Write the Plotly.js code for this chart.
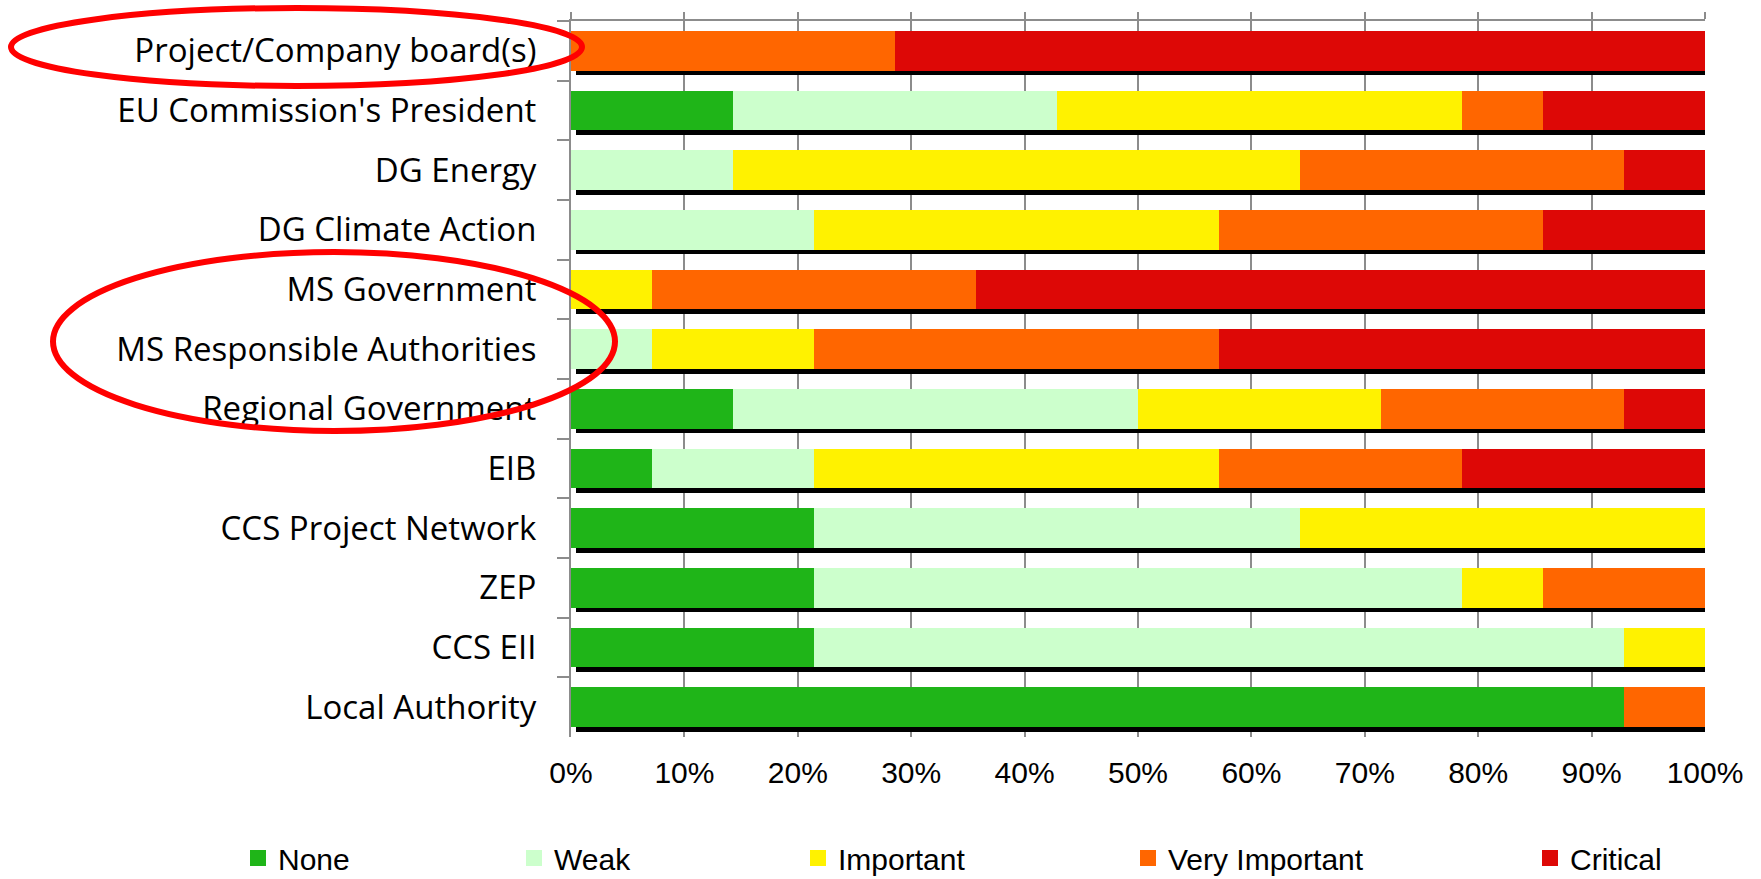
<!DOCTYPE html>
<html>
<head>
<meta charset="utf-8">
<script src="https://cdn.plot.ly/plotly-3.0.1.min.js"></script>
<style>
  html, body { margin: 0; padding: 0; background: #ffffff; }
  #chart { width: 1761px; height: 879px; }
</style>
</head>
<body>
<div id="chart"></div>
<script>
// Stakeholder categories (top to bottom)
const categories = [
  "Project/Company board(s)",
  "EU Commission's President",
  "DG Energy",
  "DG Climate Action",
  "MS Government",
  "MS Responsible Authorities",
  "Regional Government",
  "EIB",
  "CCS Project Network",
  "ZEP",
  "CCS EII",
  "Local Authority"
];

// Number of answers (out of 14 respondents) per rating
const noneCounts          = [0, 2, 0, 0, 0, 0, 2, 1, 3, 3, 3, 13];
const weakCounts          = [0, 4, 2, 3, 0, 1, 5, 2, 6, 8, 10, 0];
const importantCounts     = [0, 5, 7, 5, 1, 2, 3, 5, 5, 1, 1, 0];
const veryImportantCounts = [4, 1, 4, 4, 4, 5, 3, 3, 0, 2, 0, 1];
const criticalCounts      = [10, 2, 1, 2, 9, 6, 1, 3, 0, 0, 0, 0];

const seriesNames = ["None", "Weak", "Important", "Very Important", "Critical"];
const seriesColors = ["#1FB518", "#CCFFCC", "#FFF200", "#FF6600", "#DD0806"];
const seriesValues = [noneCounts, weakCounts, importantCounts, veryImportantCounts, criticalCounts];

const xTickVals = [0, 10, 20, 30, 40, 50, 60, 70, 80, 90, 100];

// ---- layout geometry (pixels) ----
const W = 1761, H = 879;
const ML = 571, MR = 56, MT = 21, MB = 142;
const PW = W - ML - MR, PH = H - MT - MB;
const fx = px => (px - ML) / PW;
const fy = py => (H - MB - py) / PH;

const shadowDx = 4.5, shadowDy = 4.5;
const nCat = categories.length;
const catPx = PH / nCat;
const dCat = shadowDy / catPx;
const dX = shadowDx / PW * 100;

const totals = categories.map((c, i) => seriesValues.reduce((s, arr) => s + arr[i], 0));

const traces = [];
// shadow bars (drawn underneath, slightly offset)
traces.push({
  type: 'bar', orientation: 'h',
  y: categories, x: totals,
  xaxis: 'x', yaxis: 'y',
  width: 0.67,
  marker: { color: '#000000' },
  showlegend: false, hoverinfo: 'skip'
});

const legendIds = ['legend', 'legend2', 'legend3', 'legend4', 'legend5'];
seriesNames.forEach((name, k) => {
  traces.push({
    type: 'bar', orientation: 'h',
    name: name,
    y: categories, x: seriesValues[k],
    xaxis: 'x2', yaxis: 'y2',
    width: 0.67,
    marker: { color: seriesColors[k] },
    showlegend: false,
    hoverinfo: 'skip'
  });
});
// legend keys (square swatches, no data drawn)
seriesNames.forEach((name, k) => {
  traces.push({
    type: 'scatter', mode: 'markers',
    name: name,
    x: [null], y: [null],
    xaxis: 'x2', yaxis: 'y2',
    marker: { color: seriesColors[k], symbol: 'square', size: 16 },
    legend: legendIds[k],
    showlegend: true,
    hoverinfo: 'skip'
  });
});

// carrier for the bottom percentage labels axis
traces.push({
  type: 'scatter', mode: 'markers', x: [], y: [],
  xaxis: 'x3', yaxis: 'y2', showlegend: false, hoverinfo: 'skip'
});

const gridColor = '#8C8C8C';
const labelFont = { family: 'Liberation Sans, Arial, sans-serif', size: 30, color: '#000000' };

const legendCenters = [258, 534, 818, 1148, 1550];

const layout = {
  width: W, height: H,
  autosize: false,
  margin: { l: ML, r: MR, t: MT, b: MB, pad: 0 },
  paper_bgcolor: '#ffffff',
  plot_bgcolor: 'rgba(0,0,0,0)',
  font: labelFont,
  barmode: 'stack',
  barnorm: 'percent',
  hovermode: false,
  xaxis: {
    domain: [0, 1],
    range: [-dX, 100 - dX],
    visible: false,
    fixedrange: true
  },
  yaxis: {
    domain: [0, 1],
    type: 'category',
    range: [nCat - 0.5 - dCat, -0.5 - dCat],
    visible: false,
    fixedrange: true
  },
  xaxis2: {
    overlaying: 'x', anchor: 'y', side: 'top',
    range: [0, 100],
    tickvals: xTickVals,
    showgrid: true, gridcolor: gridColor, gridwidth: 2,
    showline: true, linecolor: gridColor, linewidth: 2,
    ticks: 'outside', ticklen: 7, tickwidth: 2, tickcolor: gridColor,
    showticklabels: false,
    zeroline: false, fixedrange: true
  },
  yaxis2: {
    overlaying: 'y', anchor: 'x', side: 'left',
    type: 'category',
    range: [nCat - 0.5, -0.5],
    showgrid: false,
    showline: true, linecolor: gridColor, linewidth: 2,
    ticks: 'outside', tickson: 'boundaries', ticklen: 12, tickwidth: 2, tickcolor: gridColor,
    tickfont: { family: 'Open Sans, Noto Sans, sans-serif', size: 33, color: '#000000' },
    ticklabelstandoff: 26,
    zeroline: false, fixedrange: true
  },
  xaxis3: {
    overlaying: 'x', anchor: 'y', side: 'bottom',
    range: [0, 100],
    tickvals: xTickVals,
    ticktext: xTickVals.map(v => v + '%'),
    showgrid: false, showline: false, zeroline: false,
    ticks: '',
    tickfont: labelFont,
    ticklabelstandoff: 15,
    fixedrange: true
  },
  shapes: [
    {
      type: 'circle', xref: 'paper', yref: 'paper', layer: 'above',
      x0: fx(11), x1: fx(582), y0: fy(86), y1: fy(8),
      line: { color: '#FF0000', width: 6 },
      fillcolor: 'rgba(0,0,0,0)'
    },
    {
      type: 'circle', xref: 'paper', yref: 'paper', layer: 'above',
      x0: fx(53), x1: fx(615), y0: fy(431), y1: fy(252),
      line: { color: '#FF0000', width: 6 },
      fillcolor: 'rgba(0,0,0,0)'
    }
  ]
};

legendIds.forEach((id, k) => {
  layout[id] = {
    orientation: 'h',
    xref: 'paper', yref: 'container',
    x: fx(legendCenters[k] - 20), xanchor: 'left',
    y: (H - 858) / H, yanchor: 'middle',
    bgcolor: 'rgba(0,0,0,0)',
    borderwidth: 0,
    font: labelFont,
    itemsizing: 'trace',
    itemclick: false, itemdoubleclick: false
  };
});

Plotly.newPlot('chart', traces, layout, { displayModeBar: false, staticPlot: true });
</script>
</body>
</html>
